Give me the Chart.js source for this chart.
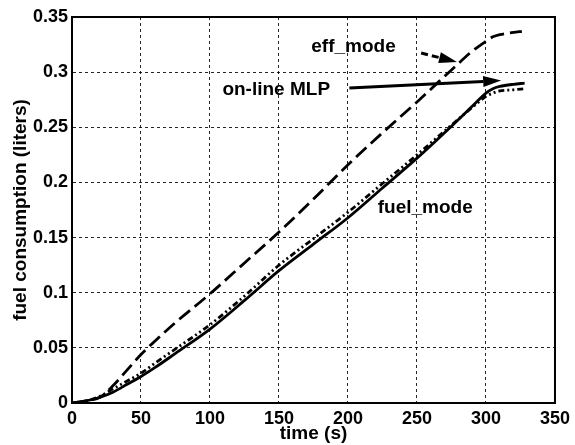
<!DOCTYPE html>
<html>
<head>
<meta charset="utf-8">
<script src="https://cdn.jsdelivr.net/npm/chart.js@4"></script>
<style>
  body { margin: 0; background: #fff; }
  #wrap { width: 575px; height: 445px; }
</style>
</head>
<body>
<div id="wrap"><canvas id="fuel-chart"></canvas></div>
<script>
// time (s)
const timeEff = [0,10,20,30,40,50,60,75,100,125,150,175,200,225,250,275,290,300,305,310,320,326];
const timeRun = [0,10,20,30,40,50,60,75,100,125,150,175,200,225,250,275,290,300,305,310,320,328];

// fuel consumption (liters)
const effMode   = [0,0.002,0.005,0.016,0.030,0.044,0.056,0.073,0.099,0.127,0.155,0.185,0.216,0.245,0.273,0.302,0.319,0.328,0.332,0.334,0.336,0.337];
const onlineMLP = [0,0.002,0.005,0.010,0.017,0.024,0.032,0.045,0.067,0.093,0.120,0.144,0.168,0.195,0.222,0.251,0.269,0.281,0.285,0.287,0.289,0.290];
const fuelMode  = [0,0.002,0.006,0.013,0.020,0.027,0.036,0.049,0.071,0.097,0.125,0.149,0.173,0.199,0.225,0.252,0.268,0.278,0.281,0.283,0.284,0.285];

const xTicks = [0,50,100,150,200,250,300,350];
const yTicks = [0,0.05,0.1,0.15,0.2,0.25,0.3,0.35];

const pts = (xs, ys) => xs.map((x, i) => ({x: x, y: ys[i]}));

const font = 'bold 19px "Liberation Sans", Arial, sans-serif';

// text labels and arrows, given in data coordinates
const notes = [
  {text: 'eff_mode',    x: 204, y: 0.323},
  {text: 'on-line MLP', x: 148, y: 0.284},
  {text: 'fuel_mode',   x: 256, y: 0.177}
];
const arrows = [
  {from: [253, 0.3173], to: [279, 0.3092], dash: [7, 4]},
  {from: [201, 0.2856], to: [311, 0.2924], dash: []}
];

const annotate = {
  id: 'annotate',
  afterDatasetsDraw(chart) {
    const c = chart.ctx, xs = chart.scales.x, ys = chart.scales.y;
    c.save();
    c.fillStyle = '#000';
    c.strokeStyle = '#000';
    c.font = font;
    c.textAlign = 'center';
    c.textBaseline = 'middle';
    notes.forEach(n => c.fillText(n.text, xs.getPixelForValue(n.x), ys.getPixelForValue(n.y)));

    arrows.forEach(a => {
      const x1 = xs.getPixelForValue(a.from[0]), y1 = ys.getPixelForValue(a.from[1]);
      const x2 = xs.getPixelForValue(a.to[0]),   y2 = ys.getPixelForValue(a.to[1]);
      const ang = Math.atan2(y2 - y1, x2 - x1);
      const len = 18, half = 5.5;
      const bx = x2 - len * Math.cos(ang), by = y2 - len * Math.sin(ang);
      c.lineWidth = 3;
      c.setLineDash(a.dash);
      c.beginPath();
      c.moveTo(x1, y1);
      c.lineTo(bx, by);
      c.stroke();
      c.setLineDash([]);
      c.beginPath();
      c.moveTo(x2, y2);
      c.lineTo(bx + half * Math.sin(ang), by - half * Math.cos(ang));
      c.lineTo(bx - half * Math.sin(ang), by + half * Math.cos(ang));
      c.closePath();
      c.fill();
    });

    // box round the axes
    const ca = chart.chartArea;
    c.lineWidth = 2;
    c.strokeRect(ca.left, ca.top, ca.right - ca.left, ca.bottom - ca.top);
    c.restore();
  }
};

const tickFont = {family: '"Liberation Sans", Arial, sans-serif', size: 18, weight: 'bold'};
const titleFont = {family: '"Liberation Sans", Arial, sans-serif', size: 19, weight: 'bold'};

new Chart(document.getElementById('fuel-chart'), {
  type: 'line',
  data: {
    datasets: [
      {label: 'eff_mode', data: pts(timeEff, effMode), borderColor: '#000', borderWidth: 2.8, borderDash: [14, 6]},
      {label: 'on-line MLP', data: pts(timeRun, onlineMLP), borderColor: '#000', borderWidth: 2.8},
      {label: 'fuel_mode', data: pts(timeRun, fuelMode), borderColor: '#000', borderWidth: 2.8, borderDash: [6, 3, 2, 3, 2, 3]}
    ]
  },
  options: {
    responsive: true,
    maintainAspectRatio: false,
    animation: false,
    layout: {padding: {top: 17, right: 15, left: 0, bottom: 0}},
    elements: {point: {radius: 0}, line: {cubicInterpolationMode: 'monotone'}},
    plugins: {legend: {display: false}, tooltip: {enabled: false}},
    scales: {
      x: {
        type: 'linear', min: 0, max: 350,
        afterBuildTicks: s => { s.ticks = xTicks.map(v => ({value: v})); },
        afterFit: s => { s.height = 42; },
        ticks: {font: tickFont, color: '#000', padding: 5, maxRotation: 0},
        grid: {color: 'rgba(0,0,0,0.85)', lineWidth: 1, drawTicks: false},
        border: {dash: [3, 3], color: '#000'},
        title: {display: true, text: 'time (s)', font: titleFont, color: '#000', padding: {top: 0, bottom: 0}}
      },
      y: {
        min: 0, max: 0.35,
        afterBuildTicks: s => { s.ticks = yTicks.map(v => ({value: v})); },
        afterFit: s => { s.width = 72; },
        ticks: {font: tickFont, color: '#000', padding: 4, callback: v => String(Number(v.toFixed(2)))},
        grid: {color: 'rgba(0,0,0,0.85)', lineWidth: 1, drawTicks: false},
        border: {dash: [3, 3], color: '#000'},
        title: {display: true, text: 'fuel consumption (liters)', font: titleFont, color: '#000', padding: {top: 9, bottom: 0}}
      }
    }
  },
  plugins: [annotate]
});
</script>
</body>
</html>
